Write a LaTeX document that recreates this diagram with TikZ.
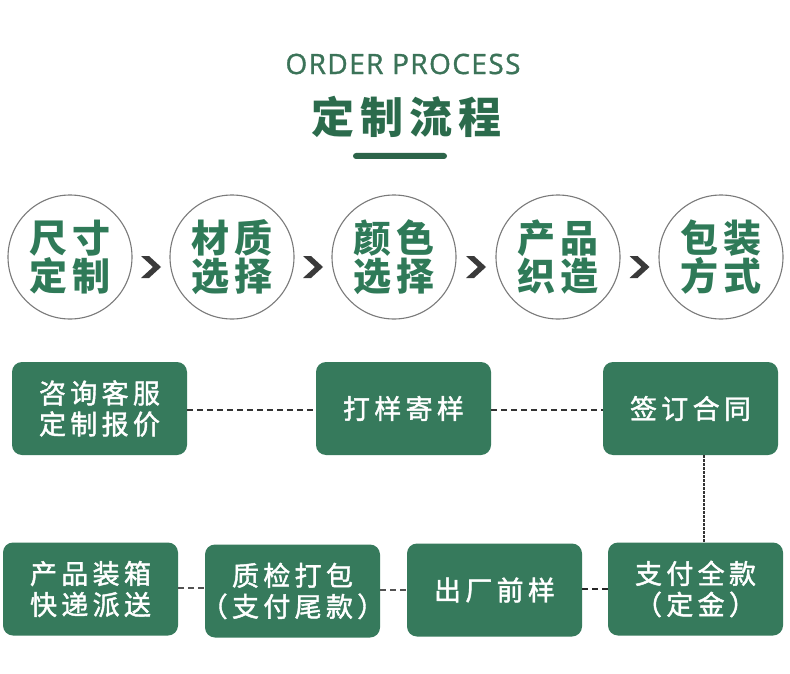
\documentclass[tikz,border=0pt]{standalone}
\usepackage{fontspec}
\usetikzlibrary{calc}
\newfontfamily\boxfont[LetterSpace=16,FakeBold=1.6]{Noto Sans CJK SC}
\newfontfamily\circfont[LetterSpace=13]{Noto Sans CJK SC}
\newfontfamily\ttlfont[LetterSpace=14]{Noto Sans CJK SC}
\newfontfamily\latfont[LetterSpace=5,FakeBold=1.2]{Open Sans}
\definecolor{boxgreen}{HTML}{367A5C}
\definecolor{circtext}{HTML}{2F7A58}
\definecolor{titlegreen}{HTML}{3B7358}
\definecolor{titledark}{HTML}{2B6B4C}
\definecolor{bargreen}{HTML}{2C6449}
\definecolor{ringgray}{HTML}{7A7A7A}
\definecolor{chevgray}{HTML}{3A3A3A}
\definecolor{dashdark}{HTML}{333333}
\tikzset{
  circ/.style={circle, draw=ringgray, line width=1.1pt, minimum size=124pt, inner sep=0pt,
    align=center, text=circtext, font=\circfont\bfseries\fontsize{38}{38}\selectfont},
  gbox/.style={fill=boxgreen, rounded corners=10pt, minimum width=175pt, minimum height=93pt,
    inner sep=0pt, align=center, text=white, font=\boxfont\fontsize{27}{31}\selectfont},
  link/.style={draw=dashdark, line width=1.5pt, dash pattern=on 6pt off 4pt},
  linkthin/.style={draw=dashdark!85, line width=1.2pt, dash pattern=on 6pt off 4pt},
  linkthick/.style={draw=black!85, line width=2.5pt, dash pattern=on 6pt off 4pt},
  linkdot/.style={draw=dashdark, line width=2pt, dash pattern=on 2.5pt off 1.5pt},
  chevron/.pic={\fill[chevgray] (-10,-11) -- (-2,-11) -- (10,0) -- (-2,11) -- (-10,11) -- (2,0) -- cycle;}
}
\begin{document}
\begin{tikzpicture}[x=1pt,y=-1pt]
\useasboundingbox[fill=white] (0,0) rectangle (790,674);
% title
\node[text=titlegreen, font=\latfont\fontsize{28}{30}\selectfont] (t1) at (403,64) {ORDER PROCESS};
\node[text=titledark, font=\ttlfont\bfseries\fontsize{43}{46}\selectfont] (t2) at (407,117) {定制流程};
\fill[bargreen, rounded corners=3pt] (353,153) rectangle (447,159);
% circles
\node[circ] (k1) at (70,257) {尺寸\\定制};
\node[circ] (k2) at (232,257) {材质\\选择};
\node[circ] (k3) at (394,257) {颜色\\选择};
\node[circ] (k4) at (558,257) {产品\\织造};
\node[circ] (k5) at (721,257) {包装\\方式};
\pic at ($(k1.east)!0.5!(k2.west)+(0,10)$) {chevron};
\pic at ($(k2.east)!0.5!(k3.west)+(0,10)$) {chevron};
\pic at ($(k3.east)!0.5!(k4.west)+(0,10)$) {chevron};
\pic at ($(k4.east)!0.5!(k5.west)+(0,10)$) {chevron};
% row 1
\node[gbox] (b1) at (99.5,408.5) {咨询客服\\定制报价};
\node[gbox] (b2) at (403.5,408.5) {打样寄样};
\node[gbox] (b3) at (690.5,408.5) {签订合同};
% row 2
\node[gbox] (c1) at (90.5,589) {产品装箱\\快递派送};
\node[gbox] (c2) at (292.5,591) {质检打包\\\makebox[150pt][c]{（支付尾款）}};
\node[gbox] (c3) at (494.5,590) {出厂前样};
\node[gbox] (c4) at (695.5,589) {支付全款\\（定金）};
% connectors
\draw[link] (b1.east |- 0,410) -- (b2.west |- 0,410);
\draw[link] (b2.east |- 0,410) -- (b3.west |- 0,410);
\coordinate (v) at (704,0);
\draw[linkdot] (b3.south -| v) -- (c4.north -| v);
\draw[linkthin] (c1.east |- 0,588) -- (c2.west |- 0,588);
\draw[linkthin] (c2.east |- 0,590) -- (c3.west |- 0,590);
\draw[linkthick] (c3.east |- 0,589) -- (c4.west |- 0,589);
\end{tikzpicture}
\end{document}
